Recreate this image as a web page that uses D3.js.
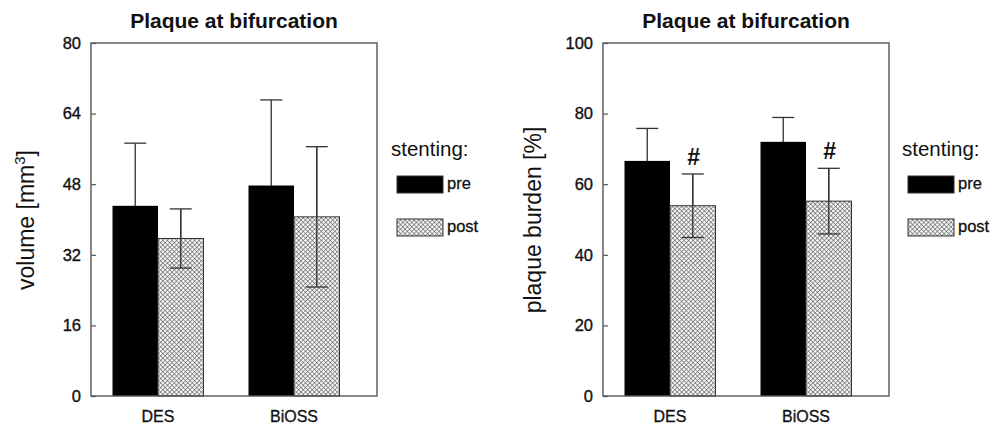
<!DOCTYPE html>
<html>
<head>
<meta charset="utf-8">
<script src="https://cdn.jsdelivr.net/npm/d3@7"></script>
<style>
  body { margin: 0; background: #fff; }
  text { font-family: "Liberation Sans", Arial, sans-serif; fill: #111; }
</style>
</head>
<body>
<svg id="chart" width="1001" height="425"></svg>
<script>
var groups = ["DES", "BiOSS"];
var series = ["pre", "post"];

// volume [mm3]
var volumeMean = [[43.1, 35.7], [47.7, 40.6]];
var volumeSD = [[14.2, 6.7], [19.4, 15.9]];
var volumeTicks = [0, 16, 32, 48, 64, 80];

// plaque burden [%]
var burdenMean = [[66.6, 53.9], [72.0, 55.2]];
var burdenSD = [[9.2, 9.0], [6.9, 9.3]];
var burdenTicks = [0, 20, 40, 60, 80, 100];
var burdenMarks = [[false, true], [false, true]];

var svg = d3.select("#chart");

var defs = svg.append("defs");
var pat = defs.append("pattern")
  .attr("id", "hatch")
  .attr("patternUnits", "userSpaceOnUse")
  .attr("width", 3.2)
  .attr("height", 3.2)
  .attr("patternTransform", "rotate(45)");
pat.append("rect").attr("width", 3.2).attr("height", 3.2).attr("fill", "#f4f4f4");
pat.append("line").attr("x1", 0).attr("y1", 0).attr("x2", 3.2).attr("y2", 0)
  .attr("stroke", "#555").attr("stroke-width", 1.1);
pat.append("line").attr("x1", 0).attr("y1", 0).attr("x2", 0).attr("y2", 3.2)
  .attr("stroke", "#555").attr("stroke-width", 1.1);

function drawPanel(ox, means, sds, ticks, label, marks) {
  var g = svg.append("g").attr("transform", "translate(" + ox + ",0)");
  var left = 91, right = 377, top = 43, bottom = 396;

  var y = d3.scaleLinear().domain([0, ticks[ticks.length - 1]]).range([bottom, top]);
  var x0 = d3.scaleBand().domain(groups).range([90, 362]);
  var x1 = d3.scaleBand().domain(series).range([0, 91]);
  var xc = function(gi) { return x0(groups[gi]) + x0.bandwidth() / 2 - 45.5; };

  groups.forEach(function(gname, gi) {
    series.forEach(function(s, si) {
      var v = means[gi][si], sd = sds[gi][si];
      var bx = xc(gi) + x1(s);
      var cx = bx + x1.bandwidth() / 2;
      g.append("line")
        .attr("x1", cx).attr("x2", cx)
        .attr("y1", y(v - sd)).attr("y2", y(v + sd))
        .attr("stroke", "#333").attr("stroke-width", 1.3);
      g.append("rect")
        .attr("x", bx).attr("y", y(v))
        .attr("width", x1.bandwidth()).attr("height", y(0) - y(v))
        .attr("fill", si === 0 ? "#000" : "url(#hatch)")
        .attr("stroke", si === 0 ? "#000" : "#333")
        .attr("stroke-width", si === 0 ? 0 : 1);
      if (si === 1) {
        g.append("line")
          .attr("x1", cx).attr("x2", cx)
          .attr("y1", y(v - sd)).attr("y2", y(v + sd))
          .attr("stroke", "#333").attr("stroke-width", 1.3);
        g.append("line")
          .attr("x1", cx - 11).attr("x2", cx + 11)
          .attr("y1", y(v - sd)).attr("y2", y(v - sd))
          .attr("stroke", "#333").attr("stroke-width", 1.3);
      }
      g.append("line")
        .attr("x1", cx - 11).attr("x2", cx + 11)
        .attr("y1", y(v + sd)).attr("y2", y(v + sd))
        .attr("stroke", "#333").attr("stroke-width", 1.3);
      if (marks && marks[gi][si]) {
        g.append("text")
          .attr("x", cx + 1).attr("y", y(v + sd) - 9)
          .attr("text-anchor", "middle")
          .attr("font-size", 23).attr("font-weight", "bold")
          .text("#");
      }
    });
  });

  g.append("rect")
    .attr("x", left).attr("y", top)
    .attr("width", right - left).attr("height", bottom - top)
    .attr("fill", "none").attr("stroke", "#555").attr("stroke-width", 1.4);

  var yAxis = d3.axisRight(y).tickValues(ticks).tickSize(5).tickFormat(d3.format("d"));
  var ya = g.append("g").attr("transform", "translate(" + left + ",0)").call(yAxis);
  ya.select(".domain").remove();
  ya.selectAll(".tick line").attr("stroke", "#555").attr("stroke-width", 1.2);
  ya.selectAll(".tick text")
    .attr("x", -10).attr("text-anchor", "end")
    .attr("font-size", 16.5).attr("fill", "#111")
    .attr("stroke", "#111").attr("stroke-width", 0.35)
    .style("font-family", "'Liberation Sans', Arial, sans-serif");

  groups.forEach(function(gname, gi) {
    g.append("text")
      .attr("x", x0(gname) + x0.bandwidth() / 2)
      .attr("y", 422)
      .attr("text-anchor", "middle")
      .attr("font-size", 16)
      .attr("stroke", "#111").attr("stroke-width", 0.3)
      .text(gname);
  });

  g.append("text")
    .attr("x", 234).attr("y", 28)
    .attr("text-anchor", "middle")
    .attr("font-size", 21).attr("font-weight", "bold")
    .text("Plaque at bifurcation");

  var yl = g.append("text")
    .attr("transform", "translate(" + label.x + ",220) rotate(-90)")
    .attr("text-anchor", "middle")
    .attr("font-size", 23);
  label.parts.forEach(function(p) {
    var t = yl.append("tspan").text(p.t);
    if (p.sup) t.attr("font-size", 15).attr("dy", -9);
    if (p.down) t.attr("dy", 9);
  });

  var lx = label.legendX;
  g.append("text").attr("x", lx - 6).attr("y", 156).attr("font-size", 20.5).text("stenting:");
  series.forEach(function(s, si) {
    var ly = si === 0 ? 176 : 219;
    g.append("rect")
      .attr("x", lx).attr("y", ly).attr("width", 46).attr("height", 17)
      .attr("fill", si === 0 ? "#000" : "url(#hatch)")
      .attr("stroke", "#333").attr("stroke-width", 1);
    g.append("text").attr("x", lx + 50).attr("y", ly + 13).attr("font-size", 16.5)
      .attr("stroke", "#111").attr("stroke-width", 0.3).text(s);
  });
}

drawPanel(0, volumeMean, volumeSD, volumeTicks,
  { x: 34, legendX: 397, parts: [{ t: "volume [mm" }, { t: "3", sup: true }, { t: "]", down: true }] });
drawPanel(512, burdenMean, burdenSD, burdenTicks,
  { x: 29, legendX: 396, parts: [{ t: "plaque burden [%]" }] }, burdenMarks);
</script>
</body>
</html>
